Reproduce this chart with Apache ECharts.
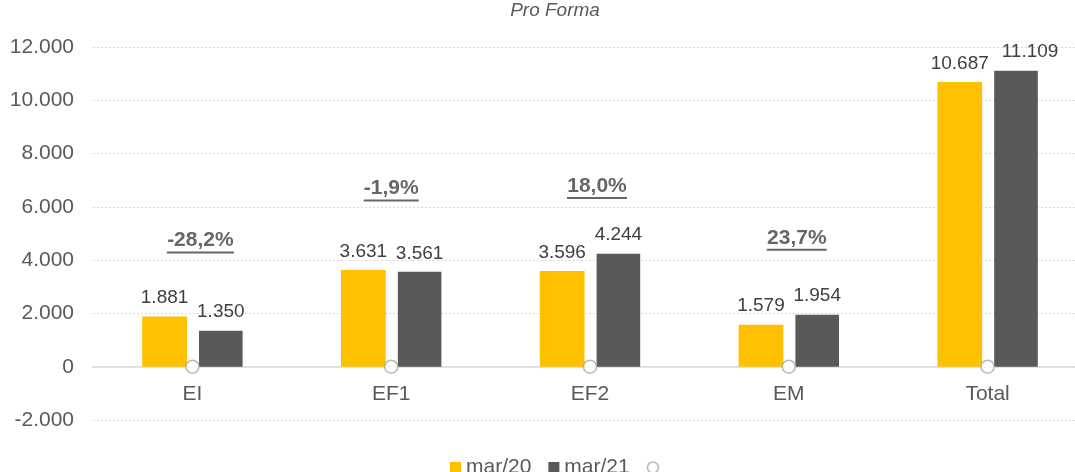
<!DOCTYPE html>
<html><head><meta charset="utf-8">
<script src="https://cdn.jsdelivr.net/npm/echarts@6/dist/echarts.min.js"></script>
<style>html,body{margin:0;padding:0;background:#fff;overflow:hidden;width:1075px;height:472px}#c{width:1087px;height:472px}</style>
</head><body><div id="c"></div>
<script>
const categories = ['EI', 'EF1', 'EF2', 'EM', 'Total'];
const mar20 = [1881, 3631, 3596, 1579, 10687];
const mar21 = [1350, 3561, 4244, 1954, 11109];
const changeLabels = ['-28,2%', '-1,9%', '18,0%', '23,7%', '3,9%'];
const changeLabelLevels = [4700, 6650, 6750, 4800, 12860];
const markerValues = [0, 0, 0, 0, 0];

const FONT = '"Liberation Sans", Arial, sans-serif';
const labelNudgeX = [8, 0, 7, 8, 4];
const mar21LabelNudgeX = [0, 0, 0, 0, 14];
const fmt = v => v.toLocaleString('de-DE');
const cv = document.createElement('canvas').getContext('2d');
cv.font = 'bold 21px ' + FONT;

const pctData = changeLabelLevels.map((v, i) => {
  const w = Math.round(cv.measureText(changeLabels[i]).width);
  return {
    value: v,
    label: {
      offset: [labelNudgeX[i], 0],
      rich: {
        t: { fontFamily: FONT, fontSize: 21, fontWeight: 'bold', color: '#404040', lineHeight: 22, align: 'center' },
        u: { height: 2, width: w, backgroundColor: '#404040', align: 'center' }
      }
    }
  };
});
const mar21Data = mar21.map((v, i) => ({ value: v, label: { offset: [mar21LabelNudgeX[i], 0] } }));

const chart = echarts.init(document.getElementById('c'));
chart.setOption({
  animation: false,
  textStyle: { fontFamily: FONT },
  title: {
    text: 'Pro Forma', left: 550, top: -4, textAlign: 'center',
    textStyle: { fontFamily: FONT, fontSize: 19, fontStyle: 'italic', fontWeight: 'normal', color: '#595959' }
  },
  legend: {
    top: 452, left: 445, itemWidth: 11, itemHeight: 11, itemGap: 17,
    data: [
      { name: 'mar/20', icon: 'rect' },
      { name: 'mar/21', icon: 'rect' },
      { name: 'marker', icon: 'circle', itemStyle: { color: '#ffffff', borderColor: '#a6a6a6', borderWidth: 1.5 } }
    ],
    formatter: n => (n === 'marker' ? '' : n),
    textStyle: { fontFamily: FONT, fontSize: 21, color: '#595959' }
  },
  grid: { left: 93, right: 0, top: 47, bottom: 52, containLabel: false },
  xAxis: {
    type: 'category', data: categories,
    axisLine: { onZero: true, lineStyle: { color: '#d9d9d9', width: 1.5 } },
    axisTick: { show: false },
    axisLabel: { fontFamily: FONT, fontSize: 21, color: '#595959', margin: -36 }
  },
  yAxis: {
    type: 'value', min: -2000, max: 12000, interval: 2000,
    axisLine: { show: false }, axisTick: { show: false },
    axisLabel: { fontFamily: FONT, fontSize: 21, color: '#595959', margin: 19, formatter: v => fmt(v) },
    splitLine: { lineStyle: { color: '#d9d9d9', type: [2, 2], width: 1 } }
  },
  series: [
    {
      name: 'mar/20', type: 'bar', data: mar20, barWidth: '22.5%', barGap: '27%',
      itemStyle: { color: '#FFC000' },
      label: { show: true, position: 'top', distance: 9, fontFamily: FONT, fontSize: 19, color: '#404040', formatter: p => fmt(p.value) }
    },
    {
      name: 'mar/21', type: 'bar', data: mar21Data,
      itemStyle: { color: '#595959' },
      label: { show: true, position: 'top', distance: 9, fontFamily: FONT, fontSize: 19, color: '#404040', formatter: p => fmt(p.value) }
    },
    {
      name: 'marker', type: 'scatter', data: markerValues, symbol: 'circle', symbolSize: 13, z: 5,
      itemStyle: { color: '#ffffff', borderColor: '#a6a6a6', borderWidth: 1.5 }
    },
    {
      name: 'pct', type: 'scatter', data: pctData, symbolSize: 0, z: 6,
      label: {
        show: true, position: 'inside',
        formatter: p => '{t|' + changeLabels[p.dataIndex] + '}\n{u|}'
      }
    }
  ]
});
</script></body></html>
